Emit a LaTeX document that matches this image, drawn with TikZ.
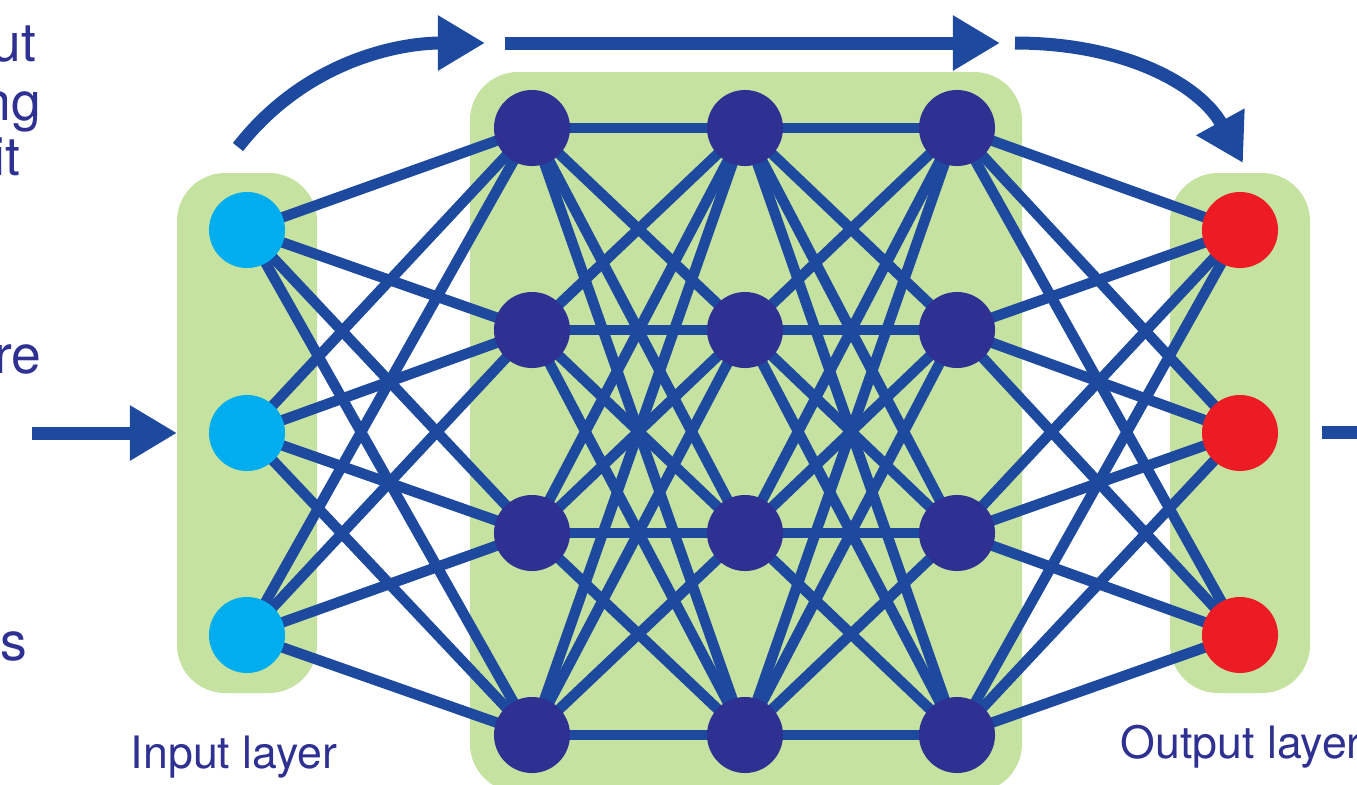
\documentclass[tikz,border=0pt]{standalone}
\usepackage{fontspec}
\setmainfont{TeX Gyre Heros}
\usetikzlibrary{arrows.meta,backgrounds}

\definecolor{netblue}{RGB}{29,73,158}
\definecolor{hidblue}{RGB}{46,49,146}
\definecolor{inpcyan}{RGB}{0,174,239}
\definecolor{outred}{RGB}{237,28,36}
\definecolor{layergreen}{RGB}{197,226,160}
\definecolor{labelblue}{RGB}{46,49,146}

\tikzset{
  neuron/.style={circle,minimum size=0.76cm,inner sep=0pt},
  link/.style={netblue,line width=0.105cm},
  flow/.style={netblue,line width=0.13cm,-{Triangle[length=0.47cm,width=0.52cm]}},
  layerbox/.style={fill=layergreen,rounded corners=0.48cm},
  lbl/.style={labelblue,inner sep=0pt,font=\fontsize{12.7pt}{14pt}\selectfont},
  sidetext/.style={labelblue,inner sep=0pt,anchor=base east,font=\fontsize{15.2pt}{18pt}\selectfont},
}

\begin{document}
\begin{tikzpicture}[x=0.01cm,y=-0.01cm]
\useasboundingbox (0,0) rectangle (1357,784);

% neurons
\foreach \r/\y in {1/230,2/433,3/635}{
  \node[neuron,fill=inpcyan] (in\r) at (247,\y) {};
  \node[neuron,fill=outred] (out\r) at (1240,\y) {};
}
\foreach \c/\x in {1/532,2/745,3/957}
  \foreach \r/\y in {1/128,2/330,3/533,4/735}
    \node[neuron,fill=hidblue] (h\c\r) at (\x,\y) {};

% layer boxes and all the weights go underneath
\begin{scope}[on background layer]
\fill[layerbox] (177,173) rectangle (317,693);
\fill[layerbox] (470,72) rectangle (1022,792);
\fill[layerbox] (1170,173) rectangle (1310,693);
\foreach \i in {1,2,3}
  \foreach \j in {1,...,4}{
    \draw[link] (in\i.center) -- (h1\j.center);
    \draw[link] (h3\j.center) -- (out\i.center);
  }
\foreach \c/\d in {1/2,2/3}
  \foreach \i in {1,...,4}
    \foreach \j in {1,...,4}
      \draw[link] (h\c\i.center) -- (h\d\j.center);
\end{scope}

% data flow
\coordinate (feed) at (32,433);
\coordinate (feedtip) at (177,433);
\coordinate (upstart) at (238,147);
\coordinate (uptip) at (485,43);
\coordinate (topstart) at (505,43);
\coordinate (toptip) at (1000,43);
\coordinate (downstart) at (1015,43);
\coordinate (downtip) at (1243,163);
\coordinate (outstart) at (1322,432);
\coordinate (outend) at (1380,432);
\draw[flow] (feed) -- (feedtip);
\draw[flow] (upstart) .. controls (306,60) and (400,43) .. (uptip);
\draw[flow] (topstart) -- (toptip);
\draw[flow] (downstart) .. controls (1125,43) and (1200,85) .. (downtip);
\draw[netblue,line width=0.13cm] (outstart) -- (outend);

% labels
\node[lbl,anchor=base west] (inlabel) at (130,768) {Input layer};
\node[lbl,anchor=base west] (outlabel) at (1120,758) {Output layer};
\node[sidetext] (t1) at (37,61) {ut};
\node[sidetext] (t2) at (42,120) {ng};
\node[sidetext] (t3) at (21,175) {it};
\node[sidetext] (t4) at (42,373) {re};
\node[sidetext] (t5) at (28,660) {ns};
\end{tikzpicture}
\end{document}
